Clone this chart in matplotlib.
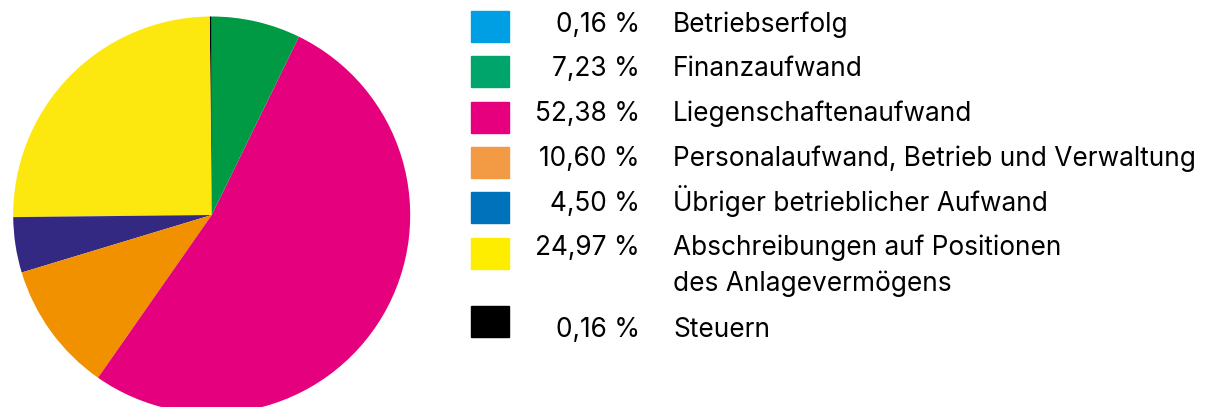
import matplotlib.pyplot as plt
from matplotlib.patches import Rectangle

# Daten
labels = ["Betriebserfolg", "Finanzaufwand", "Liegenschaftenaufwand",
          "Personalaufwand, Betrieb und Verwaltung", "Übriger betrieblicher Aufwand",
          "Abschreibungen auf Positionen\ndes Anlagevermögens", "Steuern"]
pct_text = ["0,16 %", "7,23 %", "52,38 %", "10,60 %", "4,50 %", "24,97 %", "0,16 %"]
legend_colors = ["#009FE3", "#00A56C", "#E6007E", "#F39A44", "#0072BB", "#FFED00", "#000000"]

# Kuchen (Gegenuhrzeigersinn ab oben)
pie_values = [0.16, 24.97, 4.50, 10.60, 52.38, 7.23]
pie_colors = ["#000000", "#FCE80F", "#332882", "#F29100", "#E5007E", "#009A44"]

W, H = 1214, 407
fig = plt.figure(figsize=(W / 100, H / 100), dpi=100)
plt.rcParams['font.family'] = ['Inter', 'DejaVu Sans']

cx, cy, r = 211.7, 215, 198.5
ax = fig.add_axes([(cx - r) / W, 1 - (cy + r) / H, 2 * r / W, 2 * r / H])
ax.pie(pie_values, colors=pie_colors, startangle=90, counterclock=True,
       wedgeprops=dict(linewidth=0))
ax.set_aspect('equal')
ax.set_xlim(-1, 1)
ax.set_ylim(-1, 1)
ax.axis('off')

# Legende (Pixel von oben)
box_y = [26.5, 71.5, 117, 162, 208, 253, 321]
base_y = [31.7, 76, 120.7, 165.7, 210.7, 255, 337]
fs = 18.9
for i in range(len(labels)):
    y = box_y[i]
    fig.patches.append(Rectangle((471 / W, 1 - (y + 15.5) / H), 38 / W, 31 / H,
                                 transform=fig.transFigure, color=legend_colors[i]))
    fig.text(640 / W, 1 - base_y[i] / H, pct_text[i], ha='right', va='baseline', fontsize=fs)
    # mehrzeilige Beschriftung Zeile fuer Zeile setzen
    for j, line in enumerate(labels[i].split("\n")):
        fig.text(673 / W, 1 - (base_y[i] + j * 36) / H, line, ha='left', va='baseline',
                 fontsize=fs)

fig.savefig("out.png", dpi=100)
